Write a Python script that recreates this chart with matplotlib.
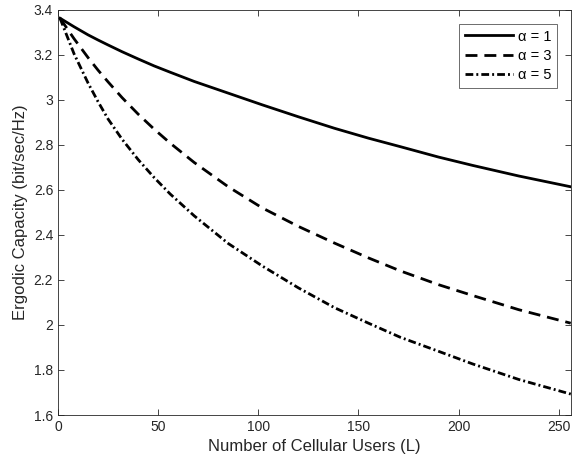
import numpy as np
import matplotlib
matplotlib.use("Agg")
import matplotlib.pyplot as plt
from matplotlib.ticker import FormatStrFormatter

plt.rcParams['font.family'] = ['Liberation Sans', 'DejaVu Sans']

# ── 데이터 ─────────────────────────────────────────────────────────
L = [1, 8, 15, 20, 25, 32, 40, 48, 56, 68, 85, 102, 120, 138, 155, 171, 190, 207, 230, 256]
cap_a1 = [3.363, 3.325, 3.289, 3.266, 3.244, 3.214, 3.182, 3.151, 3.123, 3.082,
          3.030, 2.978, 2.925, 2.874, 2.830, 2.792, 2.746, 2.709, 2.662, 2.614]
cap_a3 = [3.363, 3.272, 3.188, 3.132, 3.080, 3.010, 2.937, 2.870, 2.808, 2.722,
          2.614, 2.520, 2.438, 2.364, 2.298, 2.240, 2.179, 2.131, 2.068, 2.008]
cap_a5 = [3.363, 3.205, 3.075, 2.992, 2.915, 2.825, 2.735, 2.655, 2.582, 2.485,
          2.362, 2.262, 2.165, 2.077, 2.008, 1.945, 1.883, 1.827, 1.758, 1.693]
labels = ["α = 1", "α = 3", "α = 5"]
xticks = [0, 50, 100, 150, 200, 250]
yticks = [1.6, 1.8, 2.0, 2.2, 2.4, 2.6, 2.8, 3.0, 3.2, 3.4]

fig = plt.figure(figsize=(5.72, 4.70), dpi=100)
ax = fig.add_axes([0.1014, 0.117, 0.8964, 0.862])

ax.plot(L, cap_a1, color="black", lw=2, ls="-", label=labels[0])
ax.plot(L, cap_a3, color="black", lw=2, ls=(0, (4.3, 2.5)), label=labels[1])
ax.plot(L, cap_a5, color="black", lw=2, ls=(0, (2.8, 1.1, 0.7, 1.1)), label=labels[2])

ax.set_xlim(0, 256)
ax.set_ylim(1.6, 3.4)
ax.set_xticks(xticks)
ax.set_yticks(yticks)
ax.yaxis.set_major_formatter(FormatStrFormatter("%g"))
ax.tick_params(direction="in", top=True, right=True, length=4, width=0.6,
               labelsize=10, colors="#262626")
for s in ax.spines.values():
    s.set_linewidth(0.6)
    s.set_color("#262626")

ax.set_xlabel("Number of Cellular Users (L)", fontsize=12, color="#262626")
ax.set_ylabel("Ergodic Capacity (bit/sec/Hz)", fontsize=12, color="#262626")

leg = ax.legend(loc="upper right", fontsize=10.5, handlelength=3.3,
                fancybox=False, framealpha=1, edgecolor="#555555",
                borderaxespad=0.95, labelspacing=0.35, handletextpad=0.3,
                borderpad=0.4)
leg.get_frame().set_linewidth(0.6)

fig.savefig("out.png", dpi=100)
